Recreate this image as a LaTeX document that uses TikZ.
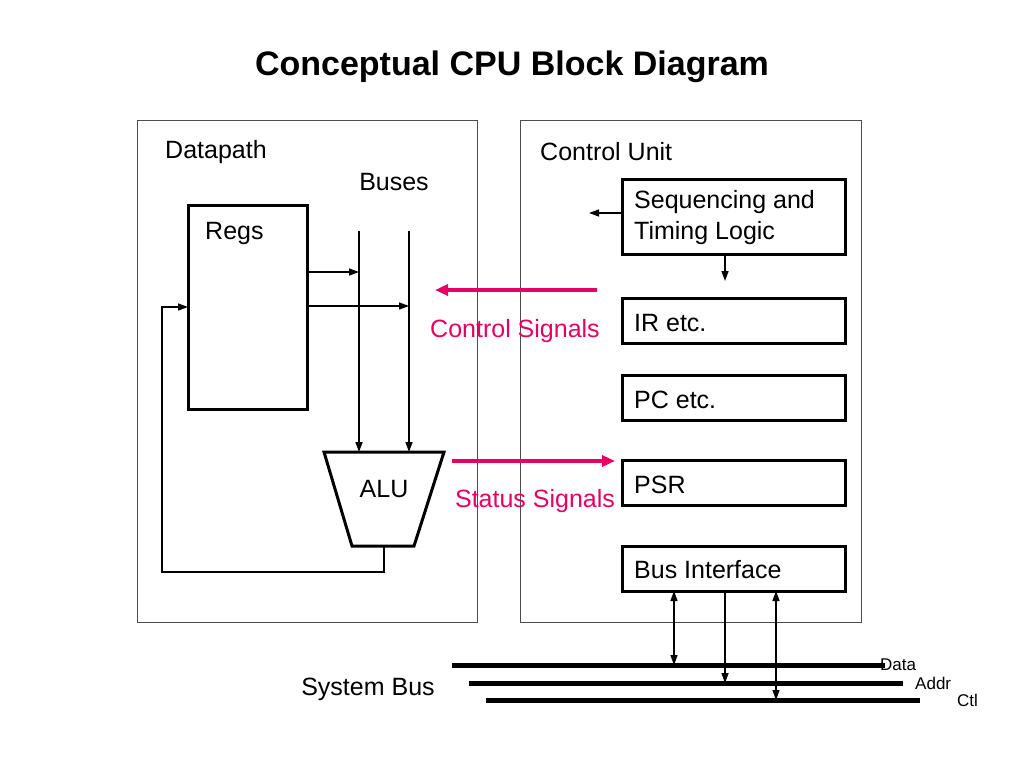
\documentclass[tikz,border=0pt]{standalone}
\usepackage{fontspec}
\setmainfont{Liberation Sans}
\usetikzlibrary{arrows.meta}
\definecolor{pinkc}{RGB}{230,0,100}
\begin{document}
\begin{tikzpicture}[x=1pt,y=-1pt,
  lbl/.style={font=\fontsize{25}{30}\selectfont,inner sep=0},
  frame/.style={draw=black!70,line width=1pt},
  blk/.style={draw,line width=3pt},
  wire/.style={line width=1.5pt,-{Triangle[length=10pt,width=7pt]}},
  bwire/.style={line width=1.5pt,{Triangle[length=10pt,width=7pt]}-{Triangle[length=10pt,width=7pt]}},
  sig/.style={draw=pinkc,line width=3.5pt,-{Triangle[length=13pt,width=11pt]}},
  bus/.style={line width=5pt},
  small/.style={font=\fontsize{17}{20}\selectfont,inner sep=0}]
\useasboundingbox (0,0) rectangle (1024,768);
\node[font=\fontsize{34}{40}\selectfont\bfseries] (title) at (512,67) {Conceptual CPU Block Diagram};
\draw[frame] (137,120) rectangle (477,622);
\draw[frame] (520,120) rectangle (861,622);
\node[lbl,anchor=west] (dp) at (165,152) {Datapath};
\node[lbl] (buses) at (394,182) {Buses};
\node[lbl,anchor=west] (cu) at (540,152) {Control Unit};
% Regs
\draw[blk] (188,205) rectangle (307,409);
\node[lbl,anchor=west] (regs) at (205,233) {Regs};
% ALU
\draw[blk] (324,452) -- (444,452) -- (414,546) -- (352,546) -- cycle;
\node[lbl] (alu) at (384,489) {ALU};
\coordinate (b1t) at (359,231); \coordinate (b1b) at (359,452);
\coordinate (b2t) at (409,231); \coordinate (b2b) at (409,452);
\draw[wire] (b1t) -- (b1b);
\draw[wire] (b2t) -- (b2b);
\coordinate (r1) at (307,272); \coordinate (r1e) at (359,272);
\coordinate (r2) at (307,306); \coordinate (r2e) at (409,306);
\draw[wire] (r1) -- (r1e);
\draw[wire] (r2) -- (r2e);
\coordinate (ab) at (384,546); \coordinate (rl) at (188,307);
\draw[wire] (ab) -- (384,572) -- (162,572) -- (162,307) -- (rl);
% signals
\coordinate (cs1) at (597,290); \coordinate (cs2) at (435,290);
\draw[sig] (cs1) -- (cs2);
\node[lbl,text=pinkc] (csl) at (515,331) {Control Signals};
\coordinate (ss1) at (452,461); \coordinate (ss2) at (615,461);
\draw[sig] (ss1) -- (ss2);
\node[lbl,text=pinkc] (ssl) at (535,501) {Status Signals};
% control unit boxes
\draw[blk] (622,179) rectangle (845,254);
\node[lbl,anchor=north west,align=left] (seq) at (634,190) {Sequencing and\\[1pt]Timing Logic};
\draw[blk] (622,298) rectangle (845,343);
\node[lbl,anchor=west] (ir) at (634,323) {IR etc.};
\draw[blk] (622,375) rectangle (845,420);
\node[lbl,anchor=west] (pc) at (634,400) {PC etc.};
\draw[blk] (622,460) rectangle (845,505);
\node[lbl,anchor=west] (psr) at (634,485) {PSR};
\draw[blk] (622,546) rectangle (845,591);
\node[lbl,anchor=west] (bi) at (634,570) {Bus Interface};
\coordinate (sl1) at (622,213); \coordinate (sl2) at (589,213);
\draw[wire] (sl1) -- (sl2);
\coordinate (sd1) at (725,254); \coordinate (sd2) at (725,281);
\draw[wire] (sd1) -- (sd2);
% system bus
\draw[bus] (452,665) -- (885,665);
\draw[bus] (469,683) -- (903,683);
\draw[bus] (486,700) -- (920,700);
\draw[bwire] (674,591) -- (674,665);
\draw[wire] (725,591) -- (725,683);
\draw[bwire] (776,591) -- (776,700);
\node[small,anchor=west] (dl) at (880,665) {Data};
\node[small,anchor=west] (al) at (915,683) {Addr};
\node[small,anchor=west] (cl) at (957,700) {Ctl};
\node[lbl] (sb) at (368,689) {System Bus};
\end{tikzpicture}
\end{document}
